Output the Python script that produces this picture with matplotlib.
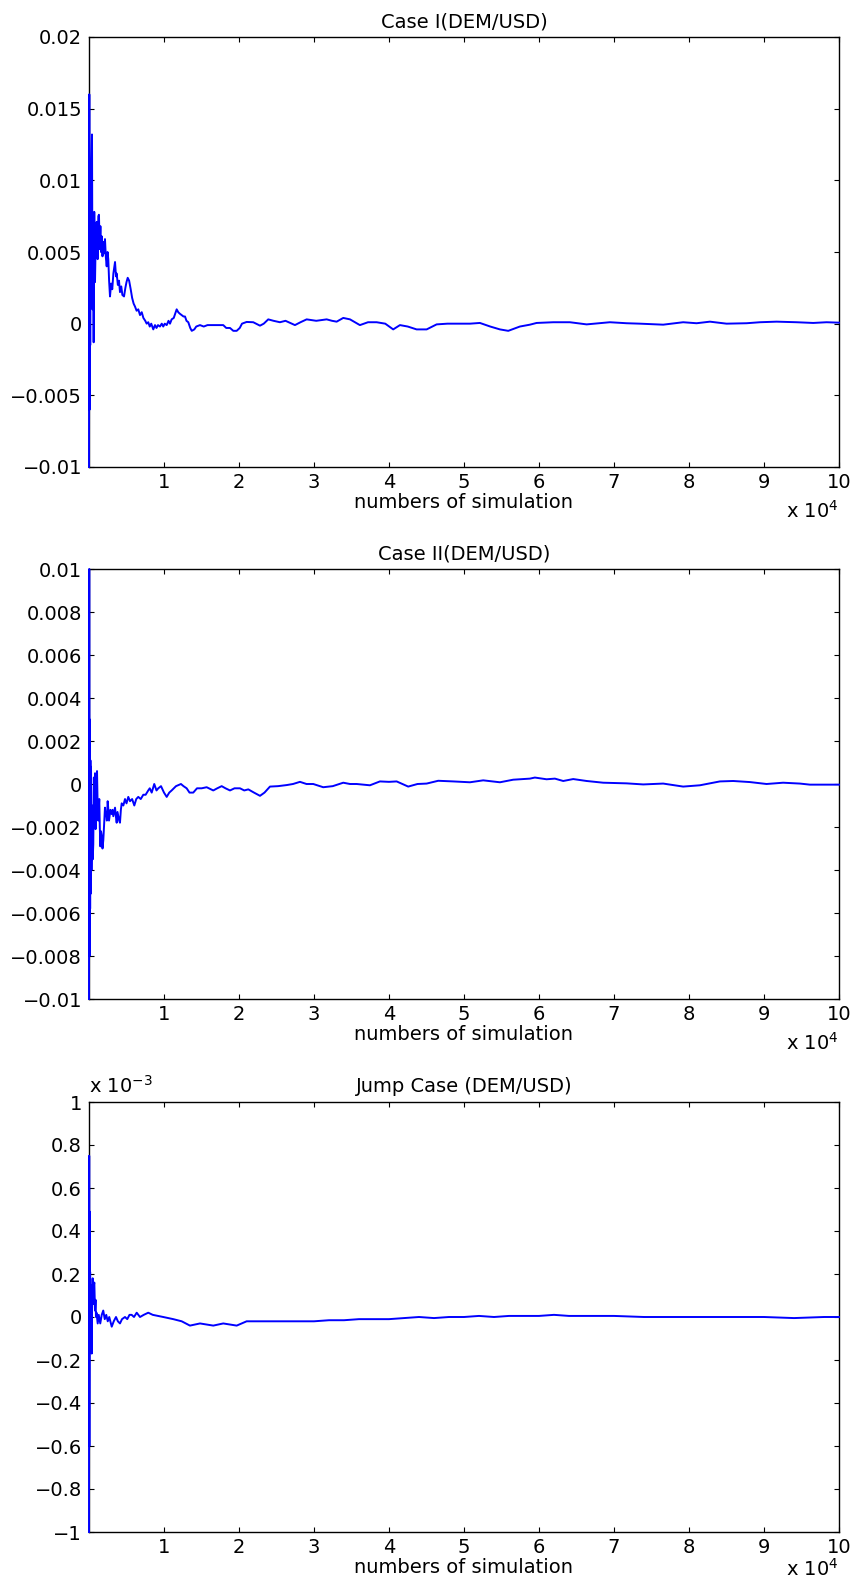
import matplotlib
matplotlib.use('Agg')
import matplotlib.pyplot as plt
import numpy as np
from matplotlib.ticker import FuncFormatter

plt.rcParams['font.family'] = ['DejaVu Sans']
plt.rcParams['mathtext.fontset'] = 'dejavusans'
plt.rcParams['font.size'] = 14

# number of simulations vs. pricing error
case1_x = [1, 40, 80, 120, 160, 200, 260, 320, 400, 470, 540, 620, 700, 800, 900,
           1030, 1150, 1240, 1330, 1420, 1520, 1600, 1690, 1800, 1900, 2000, 2130,
           2250, 2360, 2470, 2570, 2680, 2800, 2950, 3100, 3250, 3470, 3600, 3690,
           3850, 4000, 4130, 4300, 4450, 4670, 4850, 5000, 5160, 5350, 5560, 5750,
           5950, 6130, 6350, 6570, 6800, 7030, 7250, 7500, 7690, 7900, 8100, 8300,
           8570, 8800, 9000, 9200, 9460, 9700, 9900, 10100, 10360, 10600, 10800,
           11020, 11300, 11500, 11690, 11900, 12100, 12360, 12600, 12800, 13000,
           13240, 13500, 13700, 14040, 14300, 14800, 15300, 15800, 16570, 17200,
           17900, 18300, 18800, 19240, 19690, 20100, 20400, 21020, 21900, 22800,
           23300, 23900, 24600, 25460, 26200, 27460, 28200, 29020, 30300, 31690,
           32400, 33020, 33900, 34800, 36120, 37200, 38350, 39500, 40560, 41460,
           42500, 43680, 45020, 46350, 47800, 49460, 50800, 52120, 53500, 54790,
           55900, 57450, 58790, 59680, 61900, 64120, 66350, 69450, 71680, 73450,
           76560, 79220, 81010, 82790, 85010, 87680, 89460, 91680, 94340, 96560,
           98340, 100000]
case1_y = [-0.0100, 0.0160, -0.0060, 0.0103, -0.0015, 0.0085, 0.0020, 0.0110, 0.0132,
           0.0010, 0.0070, -0.0013, 0.0078, 0.0029, 0.0060, 0.0071, 0.0045, 0.0075,
           0.0076, 0.0052, 0.0068, 0.0050, 0.0061, 0.0047, 0.0057, 0.0049, 0.0059,
           0.0046, 0.0040, 0.0050, 0.0045, 0.0030, 0.0019, 0.0028, 0.0024, 0.0035,
           0.0043, 0.0033, 0.0035, 0.0027, 0.0030, 0.0022, 0.0026, 0.0020, 0.0019,
           0.0025, 0.0029, 0.0032, 0.0030, 0.0024, 0.0018, 0.0014, 0.0012, 0.0009,
           0.0010, 0.0006, 0.0008, 0.0004, 0.0002, 0.0000, 0.0001, -0.0002, 0.0000,
           -0.0004, -0.0001, -0.0003, -0.0001, -0.0002, 0.0000, -0.0002, 0.0000,
           -0.0001, 0.0002, 0.0000, 0.0003, 0.0004, 0.0007, 0.0010, 0.0008, 0.0007,
           0.0006, 0.0005, 0.0005, 0.0002, 0.0001, -0.0003, -0.0005, -0.0004,
           -0.0002, -0.0001, -0.0002, -0.0001, -0.0001, -0.0001, -0.0001, -0.0003,
           -0.0003, -0.0005, -0.0005, -0.0003, 0.0000, 0.00012, 0.0001, -0.00014,
           0.0000, 0.0003, 0.0002, 0.0001, 0.0002, -0.0001, 0.0001, 0.0003, 0.0002,
           0.0003, 0.0002, 0.00014, 0.0004, 0.0003, -0.0001, 0.0001, 0.0001, 0.0000,
           -0.0004, -0.0001, -0.0002, -0.0004, -0.0004, -0.00005, 0.0000, 0.0000,
           0.0000, 0.00005, -0.0002, -0.0004, -0.0005, -0.0002, -0.00007, 0.00005,
           0.0001, 0.0001, -0.00005, 0.0001, 0.00003, 0.0000, -0.00007, 0.0001,
           0.00003, 0.00014, 0.0000, 0.00003, 0.0001, 0.00014, 0.0001, 0.00005,
           0.0001, 0.00007]

case2_x = [1, 30, 70, 110, 150, 190, 230, 270, 330, 420, 500, 570, 650, 720, 800, 870,
           930, 1000, 1070, 1150, 1240, 1300, 1370, 1440, 1510, 1600, 1690, 1800,
           1910, 2020, 2130, 2200, 2270, 2380, 2490, 2580, 2670, 2850, 3030, 3140,
           3240, 3350, 3470, 3580, 3690, 3800, 3910, 4020, 4130, 4250, 4360, 4580,
           4800, 5000, 5240, 5470, 5750, 6040, 6300, 6570, 6900, 7240, 7550, 7900,
           8100, 8360, 8700, 9000, 9240, 9600, 10000, 10360, 10700, 11020, 11600,
           12260, 12600, 13020, 13400, 13900, 14400, 15020, 15690, 16570, 17100,
           17690, 18200, 18800, 19400, 20130, 20700, 21240, 22000, 22800, 23400,
           24130, 25200, 26350, 27200, 28130, 29000, 29900, 31230, 32500, 33900,
           34800, 35690, 36600, 37460, 38790, 40000, 41020, 42560, 43800, 45020,
           46560, 48560, 50790, 52560, 54790, 56560, 58790, 59450, 61010, 62120,
           63230, 64560, 66350, 68560, 71680, 73890, 76560, 79220, 81450, 84120,
           85890, 88120, 90340, 92550, 94790, 96120, 98340, 100000]
case2_y = [-0.0100, 0.0100, -0.0080, 0.0030, -0.0058, 0.0011, -0.0051, 0.0008, -0.0040,
           -0.0010, -0.0035, -0.0028, 0.0003, -0.0012, 0.0005, -0.0021, -0.0013,
           0.0002, 0.0006, -0.0010, -0.0017, -0.0011, -0.0007, -0.0020, -0.0029,
           -0.0022, -0.0024, -0.0030, -0.0026, -0.0018, -0.0011, -0.0014, -0.0013,
           -0.0017, -0.0008, -0.0012, -0.0017, -0.0012, -0.0014, -0.0012, -0.0015,
           -0.0013, -0.0011, -0.0015, -0.0018, -0.0013, -0.0015, -0.0017, -0.0018,
           -0.0012, -0.0009, -0.0010, -0.0007, -0.0009, -0.0006, -0.0008, -0.0007,
           -0.0010, -0.0007, -0.0006, -0.0007, -0.0005, -0.0005, -0.0003, -0.0002,
           -0.0004, -0.0000, -0.0003, -0.0002, -0.0001, -0.0004, -0.0006, -0.0004,
           -0.0003, -0.0001, 0.0000, -0.0001, -0.0002, -0.0004, -0.0004, -0.0002,
           -0.0002, -0.00015, -0.0003, -0.0002, -0.0001, -0.0002, -0.0003, -0.0002,
           -0.0002, -0.0003, -0.00025, -0.0004, -0.00055, -0.0004, -0.00012, -0.0001,
           -0.00005, 0.0000, 0.0001, 0.0000, 0.0000, -0.00015, -0.0001, 0.00006,
           0.0000, 0.0000, -0.00003, -0.00006, 0.00012, 0.0001, 0.00012, -0.00012,
           0.0000, 0.00002, 0.00015, 0.00012, 0.00008, 0.00017, 0.00008, 0.0002,
           0.00025, 0.0003, 0.00022, 0.00025, 0.00014, 0.00023, 0.00014, 0.00006,
           0.00003, -0.00002, 0.00002, -0.00012, -0.00006, 0.00012, 0.00014, 0.00009,
           0.0000, 0.00006, 0.00002, -0.00003, -0.00003, -0.00003]

jump_x = [1, 25, 50, 80, 110, 150, 190, 230, 280, 320, 360, 420, 490, 560, 620, 710,
          800, 870, 930, 1000, 1160, 1300, 1500, 1700, 1900, 2100, 2300, 2500, 2700,
          3030, 3300, 3600, 3850, 4130, 4400, 4800, 5100, 5400, 5690, 6000, 6360,
          6800, 7300, 7900, 8500, 9200, 9900, 11240, 12360, 13460, 14800, 16570,
          17900, 19690, 21020, 22000, 24000, 26000, 28000, 30000, 32000, 34000,
          36000, 38000, 40000, 42000, 44000, 46000, 48000, 50000, 52000, 54000,
          56000, 58000, 60000, 62000, 64000, 66000, 70000, 74000, 78000, 82000,
          86000, 90000, 94000, 98000, 100000]
jump_y_e3 = [-1.0, 0.75, -0.6, 0.49, -0.1, 0.21, -0.05, 0.15, 0.03, 0.12, -0.17, 0.08,
             0.18, 0.06, 0.14, 0.16, 0.03, 0.08, 0.0, 0.02, -0.03, 0.01, -0.03, 0.01,
             0.03, -0.01, 0.01, -0.02, 0.0, -0.045, -0.02, 0.0, -0.02, -0.03, -0.01,
             0.0, -0.01, 0.01, 0.01, 0.0, 0.02, 0.0, 0.01, 0.02, 0.01, 0.005, 0.0,
             -0.01, -0.02, -0.04, -0.03, -0.04, -0.03, -0.04, -0.02, -0.02, -0.02,
             -0.02, -0.02, -0.02, -0.015, -0.015, -0.01, -0.01, -0.01, -0.005, 0.0,
             -0.005, 0.0, 0.0, 0.005, 0.0, 0.005, 0.005, 0.005, 0.01, 0.005, 0.005,
             0.005, 0.0, 0.0, 0.0, 0.0, 0.0, -0.005, 0.0, 0.0]
jump_y = np.array(jump_y_e3) * 1e-3

panels = [
    ('Case I(DEM/USD)', case1_x, case1_y, (-0.01, 0.02), np.arange(-0.01, 0.0201, 0.005), 1),
    ('Case II(DEM/USD)', case2_x, case2_y, (-0.01, 0.01), np.arange(-0.01, 0.0101, 0.002), 1),
    ('Jump Case (DEM/USD)', jump_x, jump_y, (-0.001, 0.001), np.arange(-0.001, 0.00101, 0.0002), 1e-3),
]


def fmt(scale):
    def f(v, pos):
        s = '%g' % round(v / scale, 6)
        if s == '-0':
            s = '0'
        return s.replace('-', '\u2212')
    return f


fig = plt.figure(figsize=(8.56, 15.82), dpi=100)
bottoms = [1 - 467 / 1582, 1 - 999 / 1582, 1 - 1532 / 1582]
for i, ((title, x, y, ylim, yticks, scale), b) in enumerate(zip(panels, bottoms)):
    ax = fig.add_axes([89 / 856, b, 750 / 856, 430 / 1582])
    # drawn above the spines so the first spikes show at the left edge
    ax.plot(x, y, color='#0000ff', lw=1.4, zorder=3, clip_on=False)
    ax.set_xlim(0, 100000)
    ax.set_ylim(*ylim)
    ax.set_xticks(np.arange(10000, 100001, 10000))
    ax.set_yticks(yticks)
    ax.xaxis.set_major_formatter(FuncFormatter(fmt(1e4)))
    ax.yaxis.set_major_formatter(FuncFormatter(fmt(scale)))
    ax.tick_params(direction='in', top=True, right=True, length=3.6, width=0.8,
                   labelsize=14, pad=5)
    ax.tick_params(axis='x', pad=4)
    for sp in ax.spines.values():
        sp.set_linewidth(1.0)
    ax.set_title(title, fontsize=14, pad=7)
    ax.set_xlabel('numbers of simulation', fontsize=14, labelpad=1)
    off = -51 / 430 if i < 2 else -44 / 430
    ax.text(1.0, off, r'x 10$^{4}$', transform=ax.transAxes,
            ha='right', va='baseline', fontsize=14)
    if scale != 1:
        ax.text(0.0, 1 + 9 / 430, r'x 10$^{-3}$', transform=ax.transAxes,
                ha='left', va='baseline', fontsize=14)

fig.savefig('out.png', dpi=100)
